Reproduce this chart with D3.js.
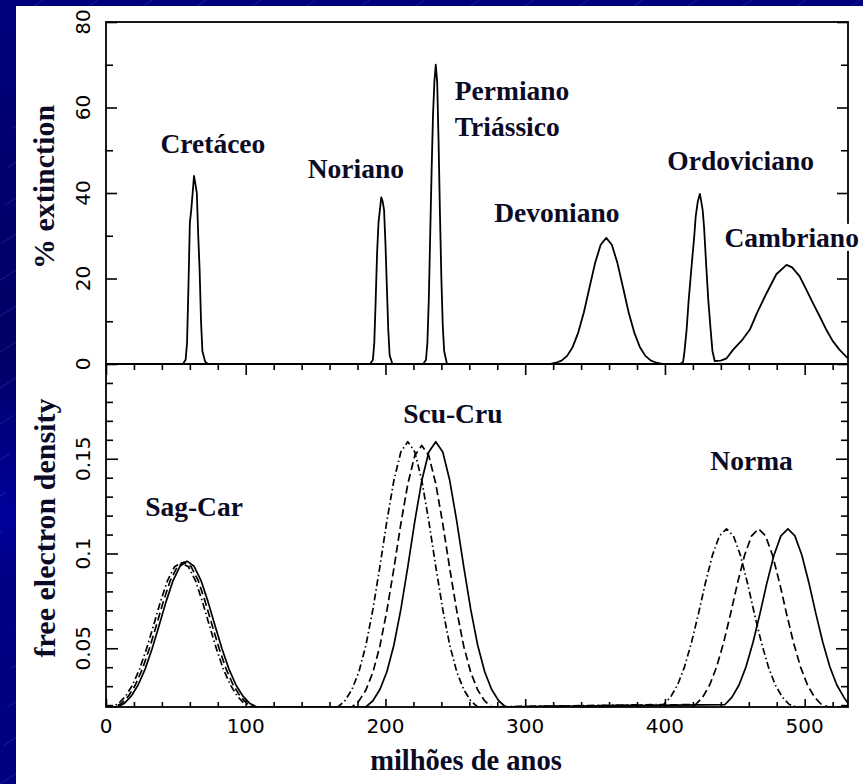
<!DOCTYPE html>
<html>
<head>
<meta charset="utf-8">
<script src="https://cdn.jsdelivr.net/npm/d3@7"></script>
<style>
  html, body { margin: 0; padding: 0; background: #000078; }
  svg { display: block; }
</style>
</head>
<body>
<svg id="chart" width="863" height="784"></svg>
<script>
// ---- Extinction record: [age in Myr, % extinction] ----
const extinctionCurve = [
  [0, 0], [55, 0], [57, 1], [58, 5], [59, 18], [60, 33], [61, 36], [62, 40], [63, 44], [64, 42], [65, 40],
  [66, 30], [67, 22], [68, 10], [69, 3], [71, 0.5], [73, 0],
  [189, 0], [191, 1], [192, 5], [193, 15], [194, 26], [195, 33], [196, 36], [197, 39], [198, 38], [199, 36],
  [200, 28], [201, 18], [202, 8], [203, 2], [205, 0],
  [227, 0], [229, 1], [230, 5], [231, 15], [232, 30], [233, 45], [234, 58], [235, 66], [236, 70], [237, 66],
  [238, 52], [239, 35], [240, 20], [241, 9], [242, 3], [244, 0],
  [318, 0], [322, 0.3], [326, 0.8], [330, 1.9], [334, 4.0], [338, 7.4], [342, 12.1], [346, 17.9], [350, 23.6],
  [354, 27.9], [358, 29.5], [362, 27.9], [366, 23.6], [370, 17.9], [374, 12.1], [378, 7.4], [382, 4.0],
  [386, 1.9], [390, 0.8], [394, 0.3], [398, 0],
  [411, 0], [413, 0.5], [414, 3], [415.5, 8], [417, 15], [419, 22.7], [421, 30], [422, 34.5], [423.5, 38],
  [425, 39.8], [426, 38], [427, 36], [428, 32], [429.6, 22.7], [431, 15], [432.7, 8], [434, 3], [435.6, 0.7],
  [440, 0.8], [444, 1.3], [448.7, 3.3], [455, 5.5], [460.7, 8], [466, 12], [472.6, 16.5], [479.7, 21],
  [487, 23.2], [491, 22.6], [496.4, 20.5], [501, 17.5], [506, 14.2], [511, 11], [515.5, 8], [520, 5.4],
  [525, 3.3], [531, 1.3]
];

// ---- Free electron density along three solar orbits: [age in Myr, density] ----
const densitySolid = [
  [0, 0.019], [8, 0.019], [13, 0.0208], [18, 0.0247], [23, 0.0306], [28, 0.039], [33, 0.0497], [38, 0.062],
  [43, 0.0746], [48, 0.0857], [53, 0.0933], [58, 0.096], [63, 0.0933], [68, 0.0857], [73, 0.0746], [78, 0.062],
  [83, 0.0497], [88, 0.039], [93, 0.0306], [98, 0.0247], [103, 0.0208], [108, 0.019],
  [186, 0.019], [191, 0.0223], [196, 0.0282], [201, 0.0376], [206, 0.0516], [211, 0.0705], [216, 0.0931],
  [221, 0.1171], [226, 0.1385], [231, 0.1536], [236, 0.159], [241, 0.1536], [246, 0.1385], [251, 0.1171],
  [256, 0.0931], [261, 0.0705], [266, 0.0516], [271, 0.0376], [276, 0.0282], [281, 0.0223], [286, 0.019],
  [443, 0.0203], [448, 0.0242], [453, 0.0306], [458, 0.0402], [463, 0.053], [468, 0.0683], [473, 0.0846],
  [478, 0.0991], [483, 0.1093], [488, 0.113], [493, 0.1093], [498, 0.0991], [503, 0.0846], [508, 0.0683],
  [513, 0.053], [518, 0.0402], [523, 0.0306], [528, 0.0242], [531, 0.021]
];
const densityDashed = [
  [0, 0.019], [6, 0.019], [11, 0.0208], [16, 0.0247], [21, 0.0306], [26, 0.039], [31, 0.0497], [36, 0.062],
  [41, 0.0746], [46, 0.0857], [51, 0.093], [56, 0.0955], [61, 0.093], [66, 0.0857], [71, 0.0746], [76, 0.062],
  [81, 0.0497], [86, 0.039], [91, 0.0306], [96, 0.0247], [101, 0.0208], [106, 0.019],
  [176, 0.019], [181, 0.0222], [186, 0.028], [191, 0.0373], [196, 0.0511], [201, 0.0698], [206, 0.092],
  [211, 0.1157], [216, 0.1368], [221, 0.1517], [226, 0.157], [231, 0.1517], [236, 0.1368], [241, 0.1157],
  [246, 0.092], [251, 0.0698], [256, 0.0511], [261, 0.0373], [266, 0.028], [271, 0.0222], [276, 0.019],
  [422, 0.0203], [427, 0.0242], [432, 0.0306], [437, 0.0402], [442, 0.053], [447, 0.0683], [452, 0.0846],
  [457, 0.0991], [462, 0.1093], [467, 0.113], [472, 0.1093], [477, 0.0991], [482, 0.0846], [487, 0.0683],
  [492, 0.053], [497, 0.0402], [502, 0.0306], [507, 0.0242], [512, 0.0203], [517, 0.019], [531, 0.019]
];
const densityDashDot = [
  [0, 0.019], [4, 0.019], [9, 0.0208], [14, 0.0247], [19, 0.0306], [24, 0.039], [29, 0.0497], [34, 0.062],
  [39, 0.0746], [44, 0.0857], [49, 0.093], [54, 0.095], [59, 0.093], [64, 0.0857], [69, 0.0746], [74, 0.062],
  [79, 0.0497], [84, 0.039], [89, 0.0306], [94, 0.0247], [99, 0.0208], [104, 0.019],
  [166, 0.019], [171, 0.0223], [176, 0.0282], [181, 0.0376], [186, 0.0516], [191, 0.0705], [196, 0.0931],
  [201, 0.1171], [206, 0.1385], [211, 0.1536], [216, 0.159], [221, 0.1536], [226, 0.1385], [231, 0.1171],
  [236, 0.0931], [241, 0.0705], [246, 0.0516], [251, 0.0376], [256, 0.0282], [261, 0.0223], [266, 0.019],
  [399, 0.0203], [404, 0.0242], [409, 0.0306], [414, 0.0402], [419, 0.053], [424, 0.0683], [429, 0.0846],
  [434, 0.0991], [439, 0.1093], [444, 0.113], [449, 0.1093], [454, 0.0991], [459, 0.0846], [464, 0.0683],
  [469, 0.053], [474, 0.0402], [479, 0.0306], [484, 0.0242], [489, 0.0203], [494, 0.019], [531, 0.019]
];

// ---- Labels, anchored in data units ----
const periodNames   = ["Cretáceo", "Noriano", "Devoniano", "Ordoviciano", "Cambriano"];
const periodAges    = [76.5, 178.8, 322.6, 454.2, 490.7];
const periodLevels  = [49.4, 43.5, 33.2, 45.4, 27.4];
const ptNames       = ["Permiano", "Triássico"];
const ptAge         = 249.6;
const ptLevels      = [61.8, 53.4];
const armNames      = ["Sag-Car", "Scu-Cru", "Norma"];
const armAges       = [63, 248.2, 462];
const armLevels     = [0.1198, 0.1689, 0.144];

// ---- Tick values ----
const ageMajor  = [0, 100, 200, 300, 400, 500];
const ageMinor  = [20, 40, 60, 80, 120, 140, 160, 180, 220, 240, 260, 280, 320, 340, 360, 380, 420, 440, 460, 480, 520];
const pctMajor  = [0, 20, 40, 60, 80];
const pctMinor  = [10, 30, 50, 70];
const densMajor = [0.05, 0.1, 0.15];
const densMajorLabels = ["0.05", "0.1", "0.15"];
const densMinor = [0.02, 0.03, 0.04, 0.06, 0.07, 0.08, 0.09, 0.11, 0.12, 0.13, 0.14, 0.16, 0.17, 0.18, 0.19];

const W = 863, H = 784;
const L = 106, R = 848, T = 22, MID = 364, B = 707;
const svg = d3.select("#chart");
const ink = "#0b0b26";

// slide background: navy gradient with faint diagonal strokes
const defs = svg.append("defs");
const grad = defs.append("linearGradient").attr("id", "bg")
  .attr("x1", 0).attr("y1", 0).attr("x2", 0).attr("y2", 1);
[[0, "#00007c"], [0.3, "#00006c"], [0.45, "#000066"], [0.58, "#000088"], [0.66, "#00009c"],
 [0.74, "#000084"], [1, "#00007e"]]
  .forEach(([o, c]) => grad.append("stop").attr("offset", o).attr("stop-color", c));
svg.append("rect").attr("width", W).attr("height", H).attr("fill", "url(#bg)");
const streaks = svg.append("g").attr("stroke", "#7c8cf0").attr("stroke-opacity", 0.28)
  .attr("stroke-width", 0.8).attr("stroke-dasharray", "40,30");
for (let k = -25; k < 17; k++) {
  const x0 = k * 54.5;
  streaks.append("line").attr("x1", x0).attr("y1", H).attr("x2", x0 + H / 0.66).attr("y2", 0);
}

// white chart sheet
svg.append("rect").attr("x", 16).attr("y", 6).attr("width", W - 16).attr("height", H - 6).attr("fill", "#fff");

// scales
const x = d3.scaleLinear().domain([0, 531]).range([L, R]);
const yTop = d3.scaleLinear().domain([0, 80]).range([MID, T]);
const yBot = d3.scaleLinear().domain([0.019, 0.2]).range([B, MID]);

// clip paths for each panel
defs.append("clipPath").attr("id", "clipTop").append("rect")
  .attr("x", L).attr("y", T).attr("width", R - L).attr("height", MID - T);
defs.append("clipPath").attr("id", "clipBot").append("rect")
  .attr("x", L).attr("y", MID).attr("width", R - L).attr("height", B - MID);

// curves
const lineTop = d3.line().x(d => x(d[0])).y(d => yTop(d[1]));
const lineBot = d3.line().x(d => x(d[0])).y(d => yBot(Math.max(d[1], 0.019)));

svg.append("path").datum(extinctionCurve).attr("clip-path", "url(#clipTop)")
  .attr("d", lineTop).attr("fill", "none").attr("stroke", "#000").attr("stroke-width", 1.8)
  .attr("stroke-linejoin", "round");

const densityStyles = [
  { data: densityDashDot, dash: "7,3,1.5,3" },
  { data: densityDashed, dash: "8,4" },
  { data: densitySolid, dash: null }
];
densityStyles.forEach(s => {
  svg.append("path").datum(s.data).attr("clip-path", "url(#clipBot)")
    .attr("d", lineBot).attr("fill", "none").attr("stroke", "#000").attr("stroke-width", 1.7)
    .attr("stroke-dasharray", s.dash).attr("stroke-linejoin", "round");
});

// ticks (all pointing into the panels)
function tickSet(axisFn, scale, values, size, tx, ty) {
  const g = svg.append("g").attr("transform", `translate(${tx},${ty})`)
    .call(axisFn(scale).tickValues(values).tickSize(size).tickFormat(""));
  g.select(".domain").remove();
  g.selectAll("line").attr("stroke", "#000").attr("stroke-width", 1.6);
  return g;
}
tickSet(d3.axisRight, yTop, pctMinor, 7, L, 0);
tickSet(d3.axisRight, yTop, pctMajor, 11, L, 0);
tickSet(d3.axisLeft, yTop, pctMinor, 7, R, 0);
tickSet(d3.axisLeft, yTop, pctMajor, 11, R, 0);

tickSet(d3.axisRight, yBot, densMinor, 7, L, 0);
tickSet(d3.axisRight, yBot, densMajor, 12, L, 0);
tickSet(d3.axisLeft, yBot, densMinor, 7, R, 0);
tickSet(d3.axisLeft, yBot, densMajor, 12, R, 0);

tickSet(d3.axisBottom, x, ageMinor, 6, 0, MID);
tickSet(d3.axisBottom, x, ageMajor, 11, 0, MID);
tickSet(d3.axisTop, x, ageMinor, 5, 0, B);
tickSet(d3.axisTop, x, ageMajor, 8, 0, B);

// panel frames
svg.append("rect").attr("x", L).attr("y", T).attr("width", R - L).attr("height", B - T)
  .attr("fill", "none").attr("stroke", "#000").attr("stroke-width", 1.8);
svg.append("line").attr("x1", L).attr("x2", R).attr("y1", MID).attr("y2", MID)
  .attr("stroke", "#000").attr("stroke-width", 1.8);

// tick labels
const tickFont = "'DejaVu Sans', sans-serif";
svg.append("g").selectAll("text").data(ageMajor).join("text")
  .attr("x", d => x(d)).attr("y", 733).attr("text-anchor", "middle")
  .attr("font-family", tickFont).attr("font-size", 20).attr("fill", "#000")
  .text(d => d);
svg.append("g").selectAll("text").data(pctMajor).join("text")
  .attr("transform", d => `translate(90,${yTop(d)}) rotate(-90)`).attr("text-anchor", "middle")
  .attr("font-family", tickFont).attr("font-size", 20).attr("fill", "#000")
  .text(d => d);
svg.append("g").selectAll("text").data(densMajor).join("text")
  .attr("transform", d => `translate(90,${yBot(d)}) rotate(-90)`).attr("text-anchor", "middle")
  .attr("font-family", tickFont).attr("font-size", 20).attr("fill", "#000")
  .text((d, i) => densMajorLabels[i]);

// axis titles
const serif = "'Liberation Serif', 'Times New Roman', serif";
function title(text, tx, ty, rot, size) {
  svg.append("text").attr("transform", `translate(${tx},${ty})` + (rot ? " rotate(-90)" : ""))
    .attr("text-anchor", "middle").attr("font-family", serif).attr("font-weight", "bold")
    .attr("font-size", size).attr("fill", ink).text(text);
}
title("% extinction", 54, 187, true, 30);
title("free electron density", 55, 528, true, 30);
title("milhões de anos", 466, 770, false, 28.5);

// event labels on a white ground
function label(text, px, py, anchor) {
  const g = svg.append("g");
  const bg = g.append("rect").attr("fill", "#fff");
  const t = g.append("text").attr("x", px).attr("y", py).attr("text-anchor", anchor || "middle")
    .attr("font-family", serif).attr("font-weight", "bold").attr("font-size", 27.5)
    .attr("fill", ink).text(text);
  const bb = t.node().getBBox();
  bg.attr("x", bb.x).attr("y", bb.y + 2).attr("width", bb.width).attr("height", bb.height - 4);
}
periodNames.forEach((n, i) => label(n, x(periodAges[i]), yTop(periodLevels[i])));
ptNames.forEach((n, i) => label(n, x(ptAge), yTop(ptLevels[i]), "start"));
armNames.forEach((n, i) => label(n, x(armAges[i]), yBot(armLevels[i])));
</script>
</body>
</html>
